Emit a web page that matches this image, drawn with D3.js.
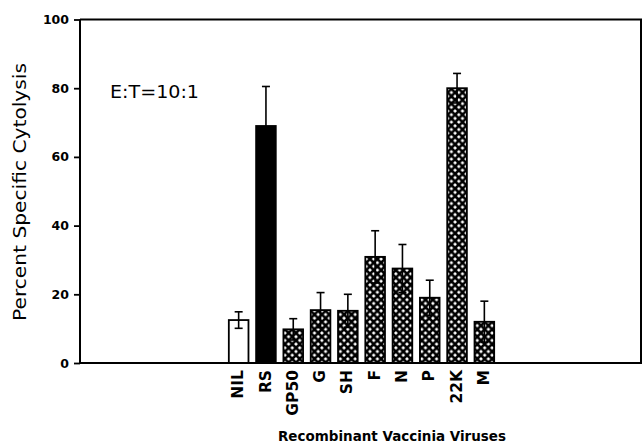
<!DOCTYPE html>
<html>
<head>
<meta charset="utf-8">
<script src="https://cdn.jsdelivr.net/npm/d3@7"></script>
<style>
  body { margin: 0; background: #fff; }
  svg { display: block; }
</style>
</head>
<body>
<div id="chart"></div>
<script>
// 1: DATA
const viruses = ["NIL", "RS", "GP50", "G", "SH", "F", "N", "P", "22K", "M"];
const lysis = [12.5, 69, 9.8, 15.4, 15.2, 30.9, 27.5, 19, 80, 12];
const lysisErr = [2.4, 11.5, 3.1, 5.1, 4.8, 7.6, 7, 5.1, 4.3, 6];
const yTicks = [0, 20, 40, 60, 80, 100];

const W = 644, H = 444;
const frame = { left: 80, right: 641, top: 19.5, bottom: 363 };

const svg = d3.select("#chart")
    .append("svg")
    .attr("width", W)
    .attr("height", H);

// cross hatch for the recombinant bars
const ps = 7.4;
const pat = svg.append("defs").append("pattern")
    .attr("id", "hatch")
    .attr("patternUnits", "userSpaceOnUse")
    .attr("width", ps)
    .attr("height", ps);
pat.append("rect").attr("width", ps).attr("height", ps).attr("fill", "#fff");
pat.append("path")
    .attr("d", `M-1,-1L${ps + 1},${ps + 1}M${ps + 1},-1L-1,${ps + 1}`)
    .attr("stroke", "#000")
    .attr("stroke-width", 2.6);

// 2: SCALES
const x = d3.scaleBand()
    .domain(viruses)
    .range([225, 498])
    .paddingInner(0.28)
    .paddingOuter(0.14);

const y = d3.scaleLinear()
    .domain([0, 100])
    .range([frame.bottom, frame.top]);

// 3: BARS
const data = viruses.map((v, i) => ({ v, val: lysis[i], err: lysisErr[i] }));

function barFill(v) {
    if (v === "NIL") return "#fff";
    if (v === "RS") return "#000";
    return "url(#hatch)";
}

svg.selectAll(".bar")
    .data(data)
    .join("rect")
    .attr("class", "bar")
    .attr("x", d => x(d.v))
    .attr("y", d => y(d.val))
    .attr("width", x.bandwidth())
    .attr("height", d => y(0) - y(d.val))
    .attr("fill", d => barFill(d.v))
    .attr("stroke", "#000")
    .attr("stroke-width", 1.8);

// error bars
const eb = svg.selectAll(".err")
    .data(data)
    .join("g")
    .attr("class", "err")
    .attr("stroke", "#000")
    .attr("stroke-width", 1.6);

eb.append("line")
    .attr("x1", d => x(d.v) + x.bandwidth() / 2)
    .attr("x2", d => x(d.v) + x.bandwidth() / 2)
    .attr("y1", d => y(d.val - d.err))
    .attr("y2", d => y(d.val + d.err));
eb.append("line")
    .attr("x1", d => x(d.v) + x.bandwidth() / 2 - 4)
    .attr("x2", d => x(d.v) + x.bandwidth() / 2 + 4)
    .attr("y1", d => y(d.val + d.err))
    .attr("y2", d => y(d.val + d.err));
eb.append("line")
    .attr("x1", d => x(d.v) + x.bandwidth() / 2 - 4)
    .attr("x2", d => x(d.v) + x.bandwidth() / 2 + 4)
    .attr("y1", d => y(d.val - d.err))
    .attr("y2", d => y(d.val - d.err));

// 4: AXES + FRAME
svg.append("path")
    .attr("d", `M${frame.left},${frame.top}H${frame.right}V${frame.bottom}H${frame.left}`)
    .attr("fill", "none")
    .attr("stroke", "#000")
    .attr("stroke-width", 2);

const yAxis = svg.append("g")
    .attr("transform", `translate(${frame.left},0)`)
    .call(d3.axisLeft(y).tickValues(yTicks).tickSize(6).tickPadding(5));
yAxis.select(".domain").attr("stroke-width", 2).attr("d", `M0,${frame.top}V${frame.bottom}`);
yAxis.selectAll(".tick line").attr("stroke-width", 1.8);
yAxis.selectAll(".tick text")
    .attr("font-family", "DejaVu Sans")
    .attr("font-weight", "bold")
    .attr("font-size", 12.5)
    .attr("fill", "#000");

// category labels, rotated
svg.selectAll(".xlab")
    .data(viruses)
    .join("text")
    .attr("class", "xlab")
    .attr("transform", d => `translate(${x(d) + x.bandwidth() / 2 - 1},370) rotate(-90)`)
    .attr("text-anchor", "end")
    .attr("dy", "0.36em")
    .attr("font-family", "DejaVu Sans")
    .attr("font-weight", "bold")
    .attr("font-size", 15.5)
    .text(d => d);

// 5: LABELS
svg.append("text")
    .attr("x", 278)
    .attr("y", 441)
    .attr("font-family", "DejaVu Sans")
    .attr("font-weight", "bold")
    .attr("font-size", 14)
    .attr("textLength", 228)
    .attr("lengthAdjust", "spacingAndGlyphs")
    .text("Recombinant Vaccinia Viruses");

svg.append("text")
    .attr("transform", "translate(26,192) rotate(-90)")
    .attr("text-anchor", "middle")
    .attr("font-family", "DejaVu Sans")
    .attr("font-size", 17)
    .attr("textLength", 258)
    .attr("lengthAdjust", "spacingAndGlyphs")
    .text("Percent Specific Cytolysis");

svg.append("text")
    .attr("x", 110)
    .attr("y", 98)
    .attr("font-family", "DejaVu Sans")
    .attr("font-size", 18)
    .attr("textLength", 89)
    .attr("lengthAdjust", "spacingAndGlyphs")
    .text("E:T=10:1");
</script>
</body>
</html>
